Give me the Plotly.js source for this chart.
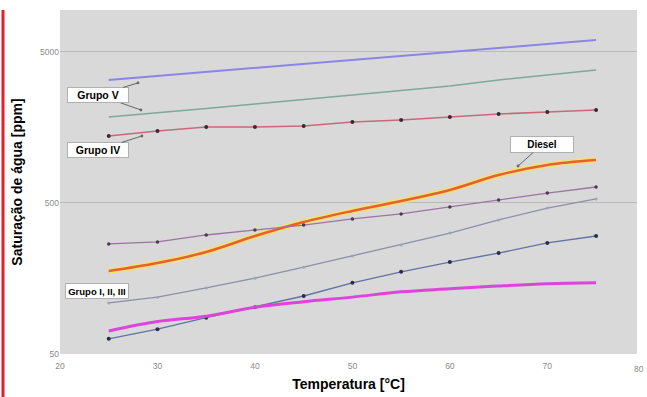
<!DOCTYPE html>
<html>
<head>
<meta charset="utf-8">
<script src="https://cdn.plot.ly/plotly-3.0.1.min.js"></script>
<style>html,body{margin:0;padding:0;background:#fff;}#chart{width:647px;height:397px;}</style>
</head>
<body>
<div id="chart"></div>
<script>
// Temperature (°C)
const temps = [25, 30, 35, 40, 45, 50, 55, 60, 65, 70, 75];
// Water saturation (ppm)
const grupoV_upper = [3266, 3467, 3686, 3918, 4165, 4426, 4706, 5000, 5313, 5650, 6000];
const grupoV_lower = [1857, 1972, 2113, 2263, 2424, 2596, 2781, 2978, 3266, 3521, 3800];
const grupoIV = [1389, 1499, 1593, 1593, 1618, 1720, 1774, 1857, 1942, 2003, 2065];
const diesel = [177, 200, 237, 302, 374, 443, 515, 610, 766, 893, 963];
const grupoI_upper = [268, 276, 307, 331, 357, 392, 423, 471, 524, 582, 638];
const grupoI_mid = [109, 119, 137, 159, 188, 223, 264, 316, 386, 463, 532];
const grupoI_lower = [63, 73, 87, 102, 121, 148, 175, 203, 233, 272, 302];
const magentaSeries = [71, 82, 89, 102, 111, 119, 129, 135, 141, 146, 148];

const yTickVals = [50, 500, 5000];
const yTickText = ['50', '500', '5000'];
const xTickVals = [20, 30, 40, 50, 60, 70];
const xTickText = ['20', '30', '40', '50', '60', '70'];

const FONT = 'Liberation Sans, Arial, sans-serif';

const traces = [
  {x: temps, y: grupoV_upper, mode: 'lines', line: {color: '#8b86e6', width: 2}},
  {x: temps, y: grupoV_lower, mode: 'lines', line: {color: '#7fa898', width: 1.5}},
  {x: temps, y: grupoIV, mode: 'lines+markers', line: {color: '#c8687a', width: 1.6},
   marker: {color: '#3a2a30', size: 4}},
  {x: temps, y: diesel, mode: 'lines', line: {color: 'rgba(246,226,100,0.75)', width: 6, shape: 'spline'}},
  {x: temps, y: diesel, mode: 'lines', line: {color: '#e8602c', width: 2.5, shape: 'spline'}},
  {x: temps, y: grupoI_upper, mode: 'lines+markers', line: {color: '#9c74a4', width: 1.3},
   marker: {color: '#4a3a50', size: 3.5}},
  {x: temps, y: grupoI_mid, mode: 'lines+markers', line: {color: '#8a90a8', width: 1.3},
   marker: {color: '#a0a4b8', size: 3}},
  {x: temps, y: grupoI_lower, mode: 'lines+markers', line: {color: '#6272a4', width: 1.4},
   marker: {color: '#2c2c4a', size: 4}},
  {x: temps, y: magentaSeries, mode: 'lines', line: {color: '#dc44dc', width: 3, shape: 'spline'}}
];

const lg = v => Math.log10(v);
const boxStyle = {bgcolor: '#ffffff', bordercolor: '#b0b0b0', borderwidth: 1, borderpad: 1,
  font: {family: FONT, size: 10.5, color: '#000'}};
const arrowStyle = {showarrow: true, arrowhead: 6, arrowsize: 0.7, arrowwidth: 1, arrowcolor: '#666'};

const annotations = [
  // secondary arrow for Grupo V (drawn first, hidden behind box)
  Object.assign({x: 28.3, y: lg(2065), xref: 'x', yref: 'y', text: '', ax: -42.5, ay: -15}, arrowStyle),
  Object.assign({x: 28, y: lg(3120), xref: 'x', yref: 'y', text: '<b>Grupo V</b>', ax: -39.5, ay: 12,
    width: 58, height: 12}, arrowStyle, boxStyle),
  Object.assign({x: 28.4, y: lg(1389), xref: 'x', yref: 'y', text: '<b>Grupo IV</b>', ax: -44, ay: 14,
    width: 58, height: 12}, arrowStyle, boxStyle),
  Object.assign({x: 67.0, y: lg(879), xref: 'x', yref: 'y', text: '<b>Diesel</b>', ax: 24, ay: -21.5,
    width: 60, height: 13}, arrowStyle, boxStyle, {font: {family: FONT, size: 10, color: '#000'}}),
  Object.assign({x: 23.82, y: lg(130.7), xref: 'x', yref: 'y', text: '<b>Grupo I, II, III</b>',
    showarrow: false, width: 60, height: 12}, boxStyle, {font: {family: FONT, size: 9.5, color: '#000'}}),
  {x: 1.0156, y: 0, xref: 'paper', yref: 'paper', text: '80', showarrow: false, yanchor: 'top',
   xanchor: 'right', yshift: -8, font: {family: FONT, size: 8.5, color: '#8a8a8a'}}
];

const layout = {
  width: 647, height: 397,
  margin: {l: 60, r: 10, t: 10, b: 43},
  paper_bgcolor: '#ffffff',
  plot_bgcolor: '#d9d9d9',
  showlegend: false,
  font: {family: FONT},
  xaxis: {
    range: [20, 79.2], tickvals: xTickVals, ticktext: xTickText, showgrid: false, zeroline: false,
    showline: false, ticks: '', ticklabelstandoff: 5, tickfont: {family: FONT, size: 8.5, color: '#8a8a8a'},
    title: {text: '<b>Temperatura [°C]</b>', font: {family: FONT, size: 14, color: '#000'}, standoff: 9}
  },
  yaxis: {
    type: 'log', range: [Math.log10(50), 3.977], tickvals: yTickVals, ticktext: yTickText,
    showgrid: true, gridcolor: '#b9b9b9', gridwidth: 1, zeroline: false, showline: false, ticks: '',
    tickfont: {family: FONT, size: 8.5, color: '#8a8a8a'},
    title: {text: '<b>Saturação de água [ppm]</b>', font: {family: FONT, size: 14, color: '#000'}, standoff: 14}
  },
  annotations: annotations,
  shapes: [
    {type: 'line', xref: 'paper', yref: 'paper', x0: -0.0988, x1: -0.0988, y0: -0.13, y1: 1.0,
     line: {color: '#e3212b', width: 3}}
  ]
};

Plotly.newPlot('chart', traces, layout, {displayModeBar: false, staticPlot: true});
</script>
</body>
</html>
